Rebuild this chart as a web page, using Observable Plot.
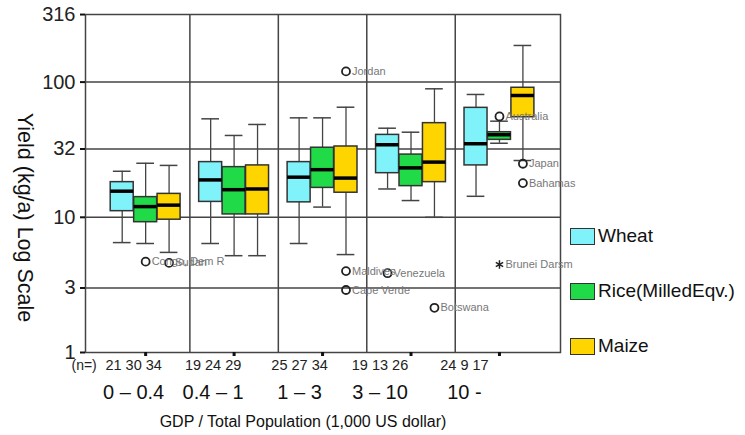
<!DOCTYPE html>
<html>
<head>
<meta charset="utf-8">
<script src="https://cdn.jsdelivr.net/npm/d3@7"></script>
<script src="https://cdn.jsdelivr.net/npm/@observablehq/plot@0.6"></script>
<style>
  body { margin: 0; background: #fff; }
  #wrap { position: relative; width: 745px; height: 435px; font-family: "Liberation Sans", Arial, sans-serif; }
  #legend { position: absolute; left: 570px; top: 0; }
  .item { position: absolute; left: 0; display: flex; align-items: center; white-space: nowrap; }
  .sw { width: 25px; height: 17px; border: 1.5px solid #333; box-sizing: border-box; margin-right: 3px; }
  .lab { font-size: 19px; color: #111; }
</style>
</head>
<body>
<div id="wrap"><div id="legend"></div></div>
<script>
// ---- data ----
const groups = ["0 – 0.4", "0.4 – 1", "1 – 3", "3 – 10", "10 -"];
const crops = ["Wheat", "Rice(MilledEqv.)", "Maize"];
const cropColors = ["#80F2FA", "#20DB47", "#FFD500"];
// [low whisker, Q1, median, Q3, high whisker] per GDP group
const wheat = [[6.5, 11.1, 15.6, 18.2, 21.9], [6.4, 13.0, 18.9, 25.6, 53.5], [6.4, 12.9, 19.8, 25.6, 54.4], [16.2, 21.2, 34.4, 40.7, 45.6], [14.3, 24.2, 35.0, 64.5, 81.0]];
const rice  = [[6.4, 9.2, 12.0, 14.1, 25.1], [5.2, 10.5, 16.0, 23.5, 40.3], [11.9, 16.5, 22.5, 32.7, 54.4], [13.3, 17.0, 23.2, 29.1, 42.6], [35.3, 37.4, 40.8, 42.6, 51.4]];
const maize = [[5.5, 9.6, 12.3, 14.9, 24.2], [5.2, 10.5, 16.2, 24.2, 48.6], [5.3, 15.2, 19.5, 33.4, 65.2], [10.0, 18.2, 25.6, 49.7, 89.2], [26.3, 55.0, 79.6, 90.8, 186.6]];
const wheatN = [21, 19, 25, 19, 24];
const riceN  = [30, 24, 27, 13, 9];
const maizeN = [34, 29, 34, 26, 17];
// outliers: group index, crop index, value, label
const outlierGroup = [0, 0, 2, 2, 2, 3, 3, 4, 4, 4];
const outlierCrop  = [1, 2, 2, 2, 2, 0, 2, 1, 2, 2];
const outlierValue = [4.7, 4.6, 120, 4.0, 2.9, 3.86, 2.14, 55.7, 24.9, 17.9];
const outlierName  = ["Congo, Dem R", "Sudan", "Jordan", "Maldives", "Cape Verde", "Venezuela", "Botswana", "Australia", "Japan", "Bahamas"];
const extremeGroup = [4], extremeCrop = [1], extremeValue = [4.48], extremeName = ["Brunei Darsm"];
const yTicks = [1, 3, 10, 32, 100, 316];
const yTitle = "Yield (kg/a) Log Scale";
const xTitle = "GDP / Total Population (1,000 US dollar)";

// ---- layout constants ----
const offset = [-0.265, 0, 0.265];
const half = 0.13, cap = 0.1;
const nudge = [-12, -21, -23, -31, -35];

const stats = [wheat, rice, maize];
const rows = [];
stats.forEach((s, c) => s.forEach((v, g) => rows.push({g, c, pos: g + offset[c], lo: v[0], q1: v[1], med: v[2], q3: v[3], hi: v[4]})));
const outliers = outlierValue.map((v, i) => ({pos: outlierGroup[i] + offset[outlierCrop[i]], v, name: outlierName[i]}));
const extremes = extremeValue.map((v, i) => ({pos: extremeGroup[i] + offset[extremeCrop[i]], v, name: extremeName[i]}));
const countText = groups.map((_, i) => `${wheatN[i]} ${riceN[i]} ${maizeN[i]}`);

const dark = "#444";
const marks = [
  Plot.ruleY([3, 10, 32, 100], {stroke: dark, strokeWidth: 1.5}),
  Plot.ruleX([0.5, 1.5, 2.5, 3.5], {stroke: dark, strokeWidth: 1.5}),
  Plot.frame({stroke: dark, strokeWidth: 1.5}),
  Plot.axisY({ticks: yTicks, tickFormat: d => String(d), tickSize: 5, tickPadding: 5, fontSize: 20, strokeWidth: 2, stroke: "#111", color: "#222", label: null}),
  Plot.axisX({ticks: [0, 1, 2, 3, 4], tickFormat: () => "", tickSize: 4, strokeWidth: 3, stroke: "#111", label: null}),
  Plot.ruleX(rows, {x: "pos", y1: "lo", y2: "hi", stroke: dark, strokeWidth: 1.3}),
  Plot.ruleY(rows, {y: "hi", x1: d => d.pos - cap, x2: d => d.pos + cap, stroke: dark, strokeWidth: 1.5}),
  Plot.ruleY(rows, {y: "lo", x1: d => d.pos - cap, x2: d => d.pos + cap, stroke: dark, strokeWidth: 1.5}),
  Plot.rect(rows, {x1: d => d.pos - half, x2: d => d.pos + half, y1: "q1", y2: "q3", fill: d => cropColors[d.c], stroke: "#333", strokeWidth: 1.5}),
  Plot.ruleY(rows, {y: "med", x1: d => d.pos - half, x2: d => d.pos + half, stroke: "#000", strokeWidth: 3.5}),
  Plot.dot(outliers, {x: "pos", y: "v", r: 4, stroke: "#222", strokeWidth: 1.8, fill: "none"}),
  Plot.text(outliers, {x: "pos", y: "v", text: "name", dx: 6, textAnchor: "start", fill: "#777", fontSize: 11, fontFamily: "Liberation Sans, Arial, sans-serif"}),
  Plot.dot(extremes, {x: "pos", y: "v", r: 4, symbol: "asterisk", stroke: "#222", strokeWidth: 1.5}),
  Plot.text(extremes, {x: "pos", y: "v", text: "name", dx: 6, textAnchor: "start", fill: "#777", fontSize: 11}),
  Plot.text(["(n=)"], {frameAnchor: "bottom-left", dx: -14, dy: 17, textAnchor: "start", fontSize: 14, fill: "#222"}),
  ...groups.map((g, i) => Plot.text([countText[i]], {x: () => i, frameAnchor: "bottom", dy: 17, dx: nudge[i], fontSize: 14.5, fill: "#222"})),
  ...groups.map((g, i) => Plot.text([g], {x: () => i, frameAnchor: "bottom", dy: 46, dx: nudge[i], fontSize: 20, fill: "#111"})),
  Plot.text([xTitle], {frameAnchor: "bottom", dy: 74, dx: -20, fontSize: 16, fill: "#111"}),
  Plot.text([yTitle], {frameAnchor: "left", dx: -61, dy: 34, rotate: 90, textAnchor: "middle", fontSize: 21.5, fill: "#111"})
];

const chart = Plot.plot({
  width: 745, height: 435,
  marginLeft: 85, marginRight: 185, marginTop: 14, marginBottom: 83,
  style: {fontFamily: "Liberation Sans, Arial, sans-serif", background: "transparent", overflow: "visible"},
  x: {type: "linear", domain: [-0.68, 4.69]},
  y: {type: "log", domain: [1, 316.23]},
  marks
});
document.getElementById("wrap").prepend(chart);

const legend = document.getElementById("legend");
const legendTops = [225, 280, 335];
crops.forEach((c, i) => {
  const it = document.createElement("div");
  it.className = "item";
  it.style.top = legendTops[i] + "px";
  it.innerHTML = `<div class="sw" style="background:${cropColors[i]}"></div><span class="lab">${c}</span>`;
  legend.appendChild(it);
});
</script>
</body>
</html>
